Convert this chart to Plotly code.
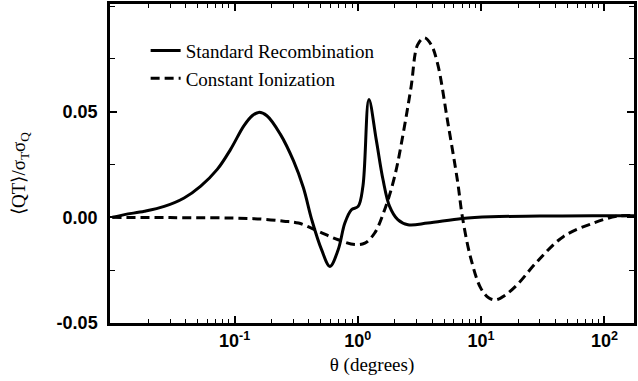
import plotly.graph_objects as go

# Standard Recombination (solid)
sr_theta = [0.0102, 0.0128, 0.0186, 0.0269, 0.039, 0.0532, 0.0724, 0.0929, 0.119, 0.139, 0.157,
            0.183, 0.235, 0.301, 0.362, 0.423, 0.508, 0.594, 0.693, 0.785, 0.888, 1.006, 1.10,
            1.23, 1.41, 1.60, 1.81, 2.11, 2.55, 3.69, 7.0, 12, 30, 80, 180]
sr_val = [0.0, 0.0013, 0.0029, 0.0052, 0.0092, 0.0148, 0.0227, 0.0322, 0.0433, 0.0481, 0.0497,
          0.0481, 0.0394, 0.0267, 0.014, -0.0011, -0.0153, -0.0232, -0.0153, -0.0027, 0.0036,
          0.0052, 0.0147, 0.0558, 0.0368, 0.0179, 0.0052, -0.0011, -0.0035, -0.0027, -0.0005,
          0.0003, 0.0006, 0.0008, 0.0008]

# Constant Ionization (dashed)
ci_theta = [0.0102, 0.03, 0.143, 0.25, 0.33, 0.478, 0.693, 0.946, 1.14, 1.37, 1.65, 1.99, 2.39,
            2.71, 3.06, 3.47, 3.93, 4.45, 5.35, 6.44, 7.06, 8.24, 9.93, 11.5, 13.1, 15.5, 19.6,
            28.5, 46.7, 81.5, 125, 180]
ci_val = [0.0, -0.0001, -0.0006, -0.0018, -0.0027, -0.0066, -0.0106, -0.0129, -0.0122, -0.0074,
          0.0036, 0.0194, 0.0431, 0.0621, 0.0818, 0.085, 0.0818, 0.0724, 0.0455, 0.0171, 0.0,
          -0.0193, -0.0335, -0.038, -0.039, -0.037, -0.0319, -0.0209, -0.009, -0.0027, 0.0005,
          0.0008]

x_tickvals = [0.1, 1, 10, 100]
x_ticktext = ["10<sup>-1</sup>", "10<sup>0</sup>", "10<sup>1</sup>", "10<sup>2</sup>"]
x_minor = [m * 10.0 ** k for k in range(-2, 3) for m in range(2, 10) if m * 10.0 ** k < 175]
y_tickvals = [-0.05, 0.0, 0.05]
y_ticktext = ["-0.05", "0.00", "0.05"]
y_minor = [-0.025, 0.025, 0.075, 0.1]

SANS = "Arial"
SERIF = "Times New Roman"

fig = go.Figure()
fig.add_trace(go.Scatter(x=sr_theta, y=sr_val, mode="lines", name="Standard Recombination",
                         line=dict(color="black", width=3, shape="spline", smoothing=1.0)))
fig.add_trace(go.Scatter(x=ci_theta, y=ci_val, mode="lines", name="Constant Ionization",
                         line=dict(color="black", width=3, dash="9px,5px", shape="spline", smoothing=1.0)))

tickfont = dict(family=SANS, size=18, color="black", weight="bold")

fig.update_layout(
    width=638, height=381,
    font=dict(family=SERIF, size=19, color="black"),
    margin=dict(l=110, r=1, t=4, b=58),
    paper_bgcolor="white", plot_bgcolor="white",
    showlegend=True,
    legend=dict(x=0.068, y=0.913, xanchor="left", yanchor="top", bgcolor="rgba(0,0,0,0)",
                font=dict(family=SERIF, size=19, color="black"),
                tracegroupgap=0, itemwidth=30),
    xaxis=dict(type="log", range=[-2.01, 2.24], showgrid=False, zeroline=False,
               showline=True, linecolor="black", linewidth=2.5, mirror="ticks",
               ticks="inside", ticklen=7, tickwidth=1.5, tickcolor="black",
               tickvals=x_tickvals, ticktext=x_ticktext, tickfont=tickfont,
               minor=dict(tickvals=x_minor, ticks="inside", ticklen=4, tickwidth=1, tickcolor="black"),
               title=dict(text="θ (degrees)", font=dict(family=SERIF, size=19, color="black"),
                          standoff=8)),
    yaxis=dict(range=[-0.05, 0.101], showgrid=False, zeroline=False,
               showline=True, linecolor="black", linewidth=2.5, mirror="ticks",
               ticks="inside", ticklen=7, tickwidth=1.5, tickcolor="black",
               tickvals=y_tickvals, ticktext=y_ticktext, tickfont=tickfont, ticklabelstandoff=6,
               minor=dict(tickvals=y_minor, ticks="inside", ticklen=5, tickwidth=1, tickcolor="black")),
    annotations=[dict(text="⟨QT⟩/σ<sub>T</sub>σ<sub>Q</sub>", textangle=-90, xref="paper", yref="paper",
                      x=-0.172, y=0.47, xanchor="center", yanchor="middle", showarrow=False,
                      font=dict(family=SERIF, size=19, color="black"))],
)

fig.write_html("out.html")
